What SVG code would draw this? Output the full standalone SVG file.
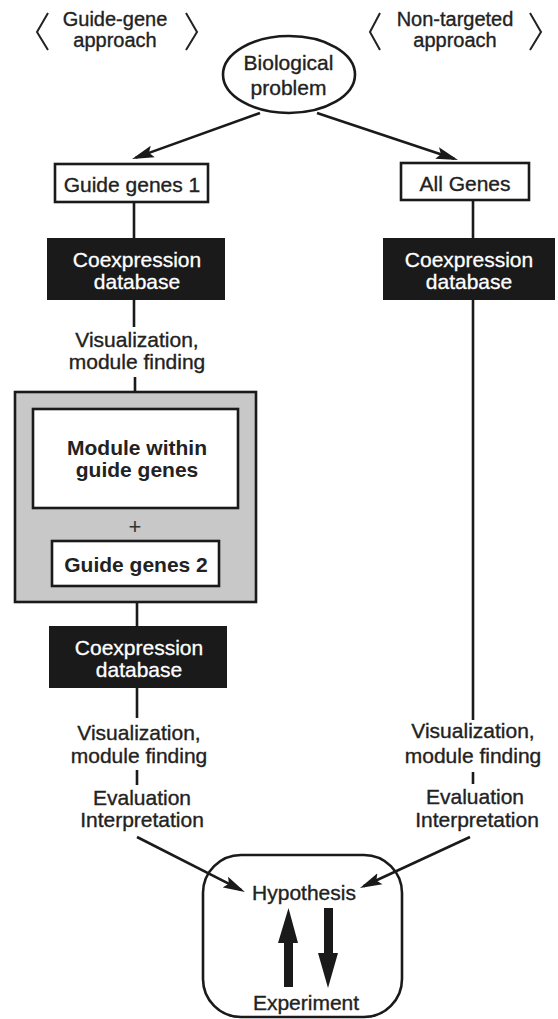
<svg xmlns="http://www.w3.org/2000/svg" width="558" height="1019" viewBox="0 0 558 1019">
<style>
  .t { font-family: "Liberation Sans", Arial, sans-serif; font-size: 21px; fill: #222; text-anchor: middle; stroke: #222; stroke-width: 0.35px; }
  .h { font-family: "Liberation Sans", Arial, sans-serif; font-size: 20px; fill: #222; text-anchor: middle; stroke: #222; stroke-width: 0.35px; }
  .w { font-family: "Liberation Sans", Arial, sans-serif; font-size: 21px; fill: #fff; text-anchor: middle; stroke: #fff; stroke-width: 0.3px; }
  .b { font-family: "Liberation Sans", Arial, sans-serif; font-size: 21px; font-weight: bold; fill: #222; text-anchor: middle; }
  .plus { font-family: "Liberation Sans", Arial, sans-serif; font-size: 22px; fill: #333; text-anchor: middle; }
  .ln { stroke: #1a1a1a; stroke-width: 2.6; fill: none; }
  .box { fill: #fff; stroke: #1a1a1a; stroke-width: 2.6; }
  .dark { fill: #1a1a1a; }
  .br { stroke: #222; stroke-width: 2; fill: none; }
</style>
<defs>
  <marker id="ah" viewBox="0 0 22 14" refX="18" refY="7" markerWidth="22" markerHeight="14" markerUnits="userSpaceOnUse" orient="auto">
    <path d="M0,1 L22,7 L0,13 L4,7 z" fill="#1a1a1a"/>
  </marker>
</defs>
<rect width="558" height="1019" fill="#fff"/>

<g id="label-guide">
  <polyline class="br" points="48,13 37,32 48,50"/>
  <polyline class="br" points="186,13 197,32 186,50"/>
  <text class="h" x="115" y="26">Guide-gene</text>
  <text class="h" x="115" y="47">approach</text>
</g>
<g id="label-nontargeted">
  <polyline class="br" points="380,13 370,32 380,50"/>
  <polyline class="br" points="530,13 541,32 530,50"/>
  <text class="h" x="455" y="26">Non-targeted</text>
  <text class="h" x="455" y="47">approach</text>
</g>

<g id="biological-problem">
  <ellipse cx="289" cy="74.5" rx="66" ry="38.5" class="box"/>
  <text class="t" x="288.5" y="70">Biological</text>
  <text class="t" x="288.5" y="95">problem</text>
</g>

<g id="guide-genes-1">
  <rect x="55" y="164" width="153" height="38" class="box"/>
  <text class="t" x="132" y="192">Guide genes 1</text>
</g>
<g id="all-genes">
  <rect x="401" y="163" width="128" height="37" class="box"/>
  <text class="t" x="465" y="191">All Genes</text>
</g>

<g id="coexp-db-1">
  <rect x="47" y="238" width="178" height="62" class="dark"/>
  <text class="w" x="137" y="267">Coexpression</text>
  <text class="w" x="137" y="289">database</text>
</g>
<g id="coexp-db-right">
  <rect x="383" y="238" width="172" height="62" class="dark"/>
  <text class="w" x="469" y="267">Coexpression</text>
  <text class="w" x="469" y="289">database</text>
</g>

<g id="vis-1">
  <text class="t" x="137" y="347">Visualization,</text>
  <text class="t" x="137" y="369">module finding</text>
</g>

<g id="module-group">
  <rect x="15" y="392" width="241" height="210" fill="#c8c8c8" stroke="#1a1a1a" stroke-width="2.6"/>
  <rect x="33" y="409" width="205" height="99" class="box"/>
  <text class="b" x="137" y="455">Module within</text>
  <text class="b" x="137" y="477">guide genes</text>
  <text class="plus" x="135" y="534">+</text>
  <rect x="52" y="541" width="167" height="45" class="box"/>
  <text class="b" x="136" y="572">Guide genes 2</text>
</g>

<g id="coexp-db-2">
  <rect x="49" y="626" width="178" height="62" class="dark"/>
  <text class="w" x="139" y="655">Coexpression</text>
  <text class="w" x="139" y="677">database</text>
</g>

<g id="vis-2">
  <text class="t" x="139" y="740">Visualization,</text>
  <text class="t" x="139" y="763">module finding</text>
</g>
<g id="eval-left">
  <text class="t" x="142" y="805">Evaluation</text>
  <text class="t" x="142" y="827">Interpretation</text>
</g>

<g id="vis-right">
  <text class="t" x="473" y="738">Visualization,</text>
  <text class="t" x="473" y="763">module finding</text>
</g>
<g id="eval-right">
  <text class="t" x="475" y="804">Evaluation</text>
  <text class="t" x="477" y="827">Interpretation</text>
</g>

<g id="hypothesis-experiment">
  <rect x="203" y="855" width="199" height="162" rx="38" ry="38" fill="#fff" stroke="#1a1a1a" stroke-width="2.6"/>
  <text class="t" x="304" y="900">Hypothesis</text>
  <text class="t" x="306" y="1010">Experiment</text>
  <polygon class="dark" points="288.5,908 298,943 293,943 293,987 284,987 284,943 278,943"/>
  <polygon class="dark" points="324,908 333,908 333,953 338,953 328,988 318,953 324,953"/>
</g>

<g id="connectors">
  <line class="ln" x1="260" y1="113" x2="135.8" y2="157.6" marker-end="url(#ah)"/>
  <line class="ln" x1="317" y1="113" x2="454.2" y2="158.7" marker-end="url(#ah)"/>
  <line class="ln" x1="134" y1="202" x2="134" y2="238"/>
  <line class="ln" x1="134" y1="300" x2="134" y2="327"/>
  <line class="ln" x1="135" y1="377" x2="135" y2="392"/>
  <line class="ln" x1="137" y1="602" x2="137" y2="626"/>
  <line class="ln" x1="137" y1="688" x2="137" y2="718"/>
  <line class="ln" x1="137" y1="770" x2="137" y2="785"/>
  <line class="ln" x1="473" y1="200" x2="473" y2="238"/>
  <line class="ln" x1="473" y1="300" x2="473" y2="720"/>
  <line class="ln" x1="473" y1="772" x2="473" y2="784"/>
  <line class="ln" x1="137" y1="837" x2="241.4" y2="890.2" marker-end="url(#ah)"/>
  <line class="ln" x1="470" y1="837" x2="363.6" y2="886.3" marker-end="url(#ah)"/>
</g>
</svg>
